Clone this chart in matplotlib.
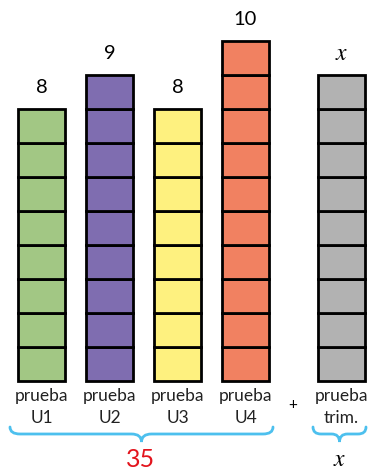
import matplotlib
matplotlib.use("Agg")
import matplotlib.pyplot as plt
from matplotlib.path import Path
from matplotlib.patches import PathPatch

plt.rcParams['font.family'] = ['Lato', 'DejaVu Sans']
plt.rcParams['mathtext.fontset'] = 'stix'

# data
categories = ['prueba\nU1', 'prueba\nU2', 'prueba\nU3', 'prueba\nU4', 'prueba\ntrim.']
scores = [8, 9, 8, 10]
unknown_units = 9          # the grey "x" column is drawn with 9 cells
value_labels = ['8', '9', '8', '10', '$x$']
total_label = '35'
unknown_label = '$x$'
colors = ['#A2C784', '#7F6DB0', '#FEF17F', '#F18161', '#B2B2B2']
positions = [0, 1, 2, 3, 4.41]

W, H = 368, 469
UX, UY = 68.0, 34.0        # pixels per data unit
X0, Y0 = 41.5, 88.0        # pixel position of data origin (from left / bottom)

fig = plt.figure(figsize=(W / 100, H / 100), dpi=100)
ax = fig.add_axes([0, 0, 1, 1])
ax.set_xlim(-X0 / UX, (W - X0) / UX)
ax.set_ylim(-Y0 / UY, (H - Y0) / UY)
ax.axis('off')


def py(p):
    # pixel row (from top) -> data y
    return (H - p - Y0) / UY


def px(p):
    return (p - X0) / UX


heights = scores + [unknown_units]
bw = 47 / UX
for pos, h, c in zip(positions, heights, colors):
    for k in range(h):
        ax.bar(pos, 1, bottom=k, width=bw, color=c, edgecolor='black',
               linewidth=2.0)

for pos, h, lab in zip(positions, heights, value_labels):
    size = 17 if lab.startswith('$') else 14.5
    ax.text(pos, h + 0.63, lab, ha='center', va='center', fontsize=size)

for pos, cat in zip(positions, categories):
    ax.text(pos, py(407), cat, ha='center', va='center', fontsize=12.5,
            linespacing=1.45, color='#222222')

ax.text(px(293), py(405), '+', ha='center', va='center', fontsize=11)


def brace(xa, xb, ytop, ymid, ybot, r=10):
    xc = (xa + xb) / 2
    pts = [(xa, ytop), (xa, ymid), (xa + r, ymid),
           (xc - r, ymid), (xc, ymid), (xc, ybot),
           (xc, ymid), (xc + r, ymid),
           (xb - r, ymid), (xb, ymid), (xb, ytop)]
    codes = [Path.MOVETO, Path.CURVE3, Path.CURVE3,
             Path.LINETO, Path.CURVE3, Path.CURVE3,
             Path.CURVE3, Path.CURVE3,
             Path.LINETO, Path.CURVE3, Path.CURVE3]
    pts = [(px(a), py(b)) for a, b in pts]
    ax.add_patch(PathPatch(Path(pts, codes), facecolor='none',
                           edgecolor='#4DC0EE', linewidth=2.0,
                           capstyle='round'))


brace(10, 273, 427, 434, 442)
brace(313, 366, 427, 434, 442, r=8)

ax.text(px(141), py(459), total_label, ha='center', va='center',
        fontsize=18, color='#E3141D')
ax.text(px(340), py(459), unknown_label, ha='center', va='center',
        fontsize=17)

fig.savefig('out.png', dpi=100)
